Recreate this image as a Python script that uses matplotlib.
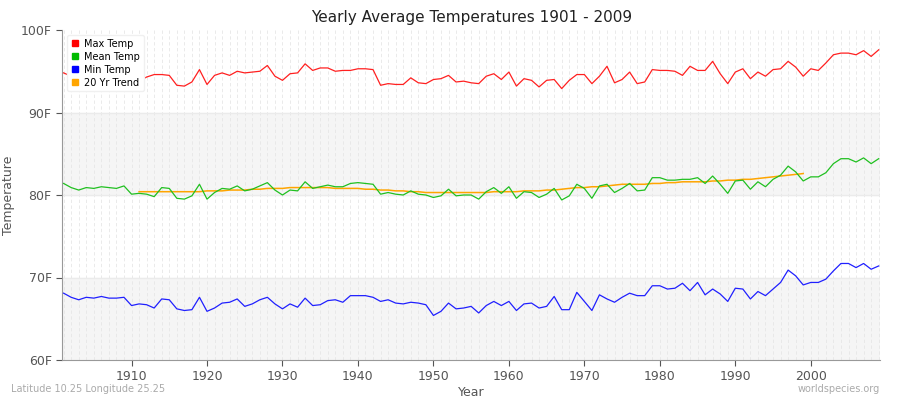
import matplotlib as mpl
mpl.use('Agg')
import matplotlib.pyplot as plt
from matplotlib.lines import Line2D
import numpy as np

years = list(range(1901, 2010))

max_temp = [94.8, 94.4, 94.6, 94.9, 94.5, 94.8, 94.6, 94.3, 94.7, 94.2,
            93.8, 94.3, 94.6, 94.6, 94.5, 93.3, 93.2, 93.7, 95.2, 93.4,
            94.5, 94.8, 94.5, 95.0, 94.8, 94.9, 95.0, 95.7, 94.4, 93.9,
            94.7, 94.8, 95.9, 95.1, 95.4, 95.4, 95.0, 95.1, 95.1, 95.3,
            95.3, 95.2, 93.3, 93.5, 93.4, 93.4, 94.2, 93.6, 93.5, 94.0,
            94.1, 94.5, 93.7, 93.8, 93.6,
            93.5, 94.4, 94.7, 94.0, 94.9, 93.2, 94.1, 93.9, 93.1, 93.9,
            94.0, 92.9, 93.9, 94.6, 94.6, 93.5, 94.4, 95.6, 93.6, 94.0,
            94.9, 93.5, 93.7, 95.2, 95.1, 95.1, 95.0, 94.5, 95.6, 95.1,
            95.1, 96.2, 94.7, 93.5, 94.9, 95.3, 94.1, 94.9, 94.4, 95.2,
            95.3, 96.2, 95.5, 94.4, 95.3, 95.1, 96.0, 97.0, 97.2, 97.2,
            97.0, 97.5, 96.8, 97.6]

mean_temp = [81.4, 80.9, 80.6, 80.9, 80.8, 81.0, 80.9, 80.8, 81.1, 80.1,
             80.2, 80.1, 79.8, 80.9, 80.8, 79.6, 79.5, 79.9, 81.3, 79.5,
             80.3, 80.8, 80.7, 81.1, 80.5, 80.7, 81.1, 81.5, 80.6, 80.0,
             80.6, 80.5, 81.6, 80.8, 81.0, 81.2, 81.0, 81.0, 81.4, 81.5,
             81.4, 81.3, 80.1, 80.3, 80.1, 80.0, 80.5, 80.1, 80.0, 79.7,
             79.9, 80.7, 79.9, 80.0, 80.0,
             79.5, 80.4, 80.9, 80.2, 81.0, 79.6, 80.4, 80.3, 79.7, 80.1,
             80.8, 79.4, 79.9, 81.3, 80.8, 79.6, 81.1, 81.3, 80.3, 80.8,
             81.4, 80.5, 80.6, 82.1, 82.1, 81.8, 81.8, 81.9, 81.9, 82.1,
             81.4, 82.3, 81.3, 80.2, 81.7, 81.8, 80.7, 81.6, 81.0, 81.9,
             82.4, 83.5, 82.8, 81.7, 82.2, 82.2, 82.7, 83.8, 84.4, 84.4,
             84.0, 84.5, 83.8, 84.4]

min_temp = [68.1, 67.6, 67.3, 67.6, 67.5, 67.7, 67.5, 67.5, 67.6, 66.6,
            66.8, 66.7, 66.3, 67.4, 67.3, 66.2, 66.0, 66.1, 67.6, 65.9,
            66.3, 66.9, 67.0, 67.4, 66.5, 66.8, 67.3, 67.6, 66.8, 66.2,
            66.8, 66.4, 67.5, 66.6, 66.7, 67.2, 67.3, 67.0, 67.8, 67.8,
            67.8, 67.6, 67.1, 67.3, 66.9, 66.8, 67.0, 66.9, 66.7, 65.4,
            65.9, 66.9, 66.2, 66.3, 66.5,
            65.7, 66.6, 67.1, 66.6, 67.1, 66.0, 66.8, 66.9, 66.3, 66.5,
            67.7, 66.1, 66.1, 68.2, 67.1, 66.0, 67.9, 67.4, 67.0, 67.6,
            68.1, 67.8, 67.8, 69.0, 69.0, 68.6, 68.7, 69.3, 68.4, 69.4,
            67.9, 68.6, 68.0, 67.1, 68.7, 68.6, 67.4, 68.3, 67.8, 68.6,
            69.4, 70.9, 70.2, 69.1, 69.4, 69.4, 69.8, 70.8, 71.7, 71.7,
            71.2, 71.7, 71.0, 71.4]

trend_years = list(range(1911, 2000))
trend = [80.4, 80.4, 80.4, 80.4, 80.4, 80.4, 80.4, 80.4, 80.4, 80.5,
         80.5, 80.5, 80.6, 80.6, 80.6, 80.7, 80.7, 80.8, 80.8, 80.8,
         80.9, 80.9, 80.9, 80.9, 80.9, 80.9, 80.8, 80.8, 80.8, 80.8,
         80.7, 80.7, 80.6, 80.6, 80.5, 80.5, 80.4, 80.4, 80.3, 80.3,
         80.3, 80.3, 80.3, 80.3, 80.3, 80.3, 80.3, 80.4, 80.4, 80.4,
         80.4, 80.5, 80.5, 80.5, 80.6, 80.6, 80.7, 80.8, 80.9, 80.9,
         81.0, 81.0, 81.1, 81.2, 81.3, 81.3, 81.3, 81.3, 81.4, 81.4,
         81.5, 81.5, 81.6, 81.6, 81.6, 81.6, 81.7, 81.7, 81.8, 81.8,
         81.9, 81.9, 82.0, 82.1, 82.2, 82.3, 82.4, 82.5, 82.6]

yticks = [60, 70, 80, 90, 100]
ytick_labels = ['60F', '70F', '80F', '90F', '100F']
xticks = [1910, 1920, 1930, 1940, 1950, 1960, 1970, 1980, 1990, 2000]

fig = plt.figure(figsize=(9, 4), dpi=100)
ax = fig.add_axes([0.069, 0.1, 0.909, 0.825])

# alternating bands
ax.axhspan(60, 70, color='#f5f5f5', zorder=0)
ax.axhspan(80, 90, color='#f5f5f5', zorder=0)
for yr in years:
    ax.axvline(yr, color='#e6e6e6', lw=0.6, ls=(0, (4, 3)), zorder=1)
for yv in [70, 80, 90]:
    ax.axhline(yv, color='#ebebeb', lw=1, zorder=1)

ax.plot(years, max_temp, color='#ff2020', lw=0.9, zorder=3)
ax.plot(years, mean_temp, color='#20c020', lw=0.9, zorder=3)
ax.plot(years, min_temp, color='#2020ff', lw=0.9, zorder=3)
ax.plot(trend_years, trend, color='#ffa500', lw=1.1, zorder=2)

ax.set_xlim(1900.8, 2009.2)
ax.set_ylim(60, 100)
ax.set_yticks(yticks)
ax.set_yticklabels(ytick_labels)
ax.set_xticks(xticks)
ax.tick_params(colors='#555555', labelsize=9, length=4)
for s in ['top', 'right']:
    ax.spines[s].set_visible(False)
ax.spines['left'].set_color('#999999')
ax.spines['bottom'].set_color('#999999')

ax.set_title('Yearly Average Temperatures 1901 - 2009', fontsize=11, color='#222222')
ax.set_xlabel('Year', fontsize=9, color='#555555', labelpad=2)
ax.set_ylabel('Temperature', fontsize=9, color='#555555')

handles = [Line2D([], [], ls='', marker='s', markersize=4, color=c) for c in
           ['#ff0000', '#00bb00', '#0000ff', '#ffa500']]
leg = ax.legend(handles, ['Max Temp', 'Mean Temp', 'Min Temp', '20 Yr Trend'],
                loc='upper left', fontsize=7, handlelength=0.8, handletextpad=0.6,
                labelspacing=0.3, framealpha=1, edgecolor='#f0f0f0',
                bbox_to_anchor=(0.0, 1.0))
leg.set_zorder(5)

fig.text(0.012, 0.02, 'Latitude 10.25 Longitude 25.25', fontsize=7, color='#aaaaaa')
fig.text(0.978, 0.02, 'worldspecies.org', fontsize=7, color='#aaaaaa', ha='right')

fig.savefig('out.png')
